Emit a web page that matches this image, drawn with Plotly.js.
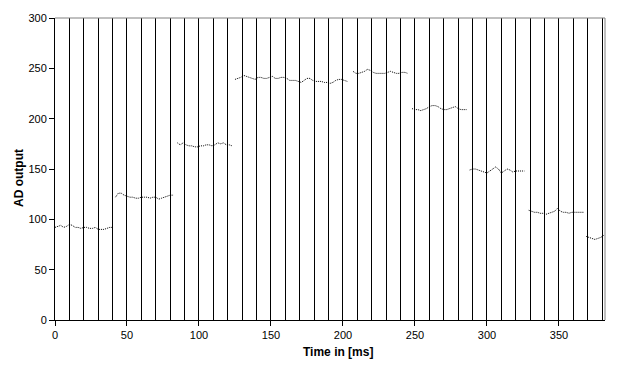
<!DOCTYPE html>
<html>
<head>
<meta charset="utf-8">
<script src="https://cdn.plot.ly/plotly-3.0.1.min.js"></script>
<style>html,body{margin:0;padding:0;background:#fff;}#chart{width:627px;height:368px;}</style>
</head>
<body>
<div id="chart"></div>
<script>
// Sample period of the recording (ms)
const samplePeriod = 2;
// Start time (ms) of each recorded segment
const segmentStart = [0, 42, 85, 125, 207, 248, 288, 329, 369];
// AD output values per segment
const seg1 = [92, 93, 94, 92, 93, 95, 94, 92, 92, 91, 92, 92, 91, 91, 92, 90, 90, 90, 91, 92, 92];
const seg2 = [122, 126, 126, 124, 123, 122, 122, 121, 121, 122, 122, 122, 121, 122, 122, 120, 121, 122, 123, 124, 124];
const seg3 = [176, 174, 176, 174, 173, 173, 172, 172, 173, 173, 174, 174, 173, 174, 176, 175, 176, 174, 174, 173];
const seg4 = [239, 240, 241, 243, 242, 241, 240, 239, 241, 241, 240, 240, 241, 242, 240, 240, 241, 241, 240, 238, 238,
              238, 237, 236, 238, 240, 240, 238, 237, 237, 237, 236, 236, 235, 236, 238, 239, 239, 238, 237];
const seg5 = [247, 245, 245, 246, 247, 249, 248, 246, 245, 245, 245, 245, 246, 247, 246, 245, 245, 246, 246, 245];
const seg6 = [210, 209, 209, 208, 209, 210, 212, 213, 213, 212, 210, 209, 209, 210, 211, 212, 210, 209, 209, 209];
const seg7 = [149, 150, 150, 149, 148, 147, 146, 148, 150, 152, 150, 146, 148, 150, 149, 147, 148, 148, 148, 148];
const seg8 = [109, 108, 107, 107, 106, 106, 105, 106, 107, 108, 111, 108, 107, 107, 106, 107, 107, 107, 107, 107];
const seg9 = [83, 82, 81, 80, 81, 82, 84];
const segments = [seg1, seg2, seg3, seg4, seg5, seg6, seg7, seg8, seg9];

const xTickVals = [0, 50, 100, 150, 200, 250, 300, 350];
const yTickVals = [0, 50, 100, 150, 200, 250, 300];
const xTitle = 'Time in [ms]';
const yTitle = 'AD output';

// Build one trace with gaps between segments
const xs = [], ys = [];
segments.forEach((vals, s) => {
  vals.forEach((v, i) => { xs.push(segmentStart[s] + i * samplePeriod); ys.push(v); });
  xs.push(null); ys.push(null);
});

const font = {family: 'Liberation Sans, Arial, sans-serif', size: 11, color: '#000'};

const data = [{
  x: xs, y: ys, type: 'scatter', mode: 'lines', connectgaps: false,
  line: {color: '#000', width: 1, dash: '1px,1px'},
  hoverinfo: 'x+y'
}];

const layout = {
  width: 627, height: 368,
  margin: {l: 55, r: 22, t: 18, b: 48, pad: 0},
  paper_bgcolor: '#fff', plot_bgcolor: '#fff',
  showlegend: false,
  font: font,
  xaxis: {
    range: [0, 382], tickvals: xTickVals, ticktext: xTickVals.map(String),
    ticks: 'outside', ticklen: 5, tickcolor: '#000', tickwidth: 1,
    showline: true, linecolor: '#000', linewidth: 1,
    showgrid: true, gridcolor: '#000', gridwidth: 1,
    minor: {dtick: 10, tick0: 0, showgrid: true, gridcolor: '#000', gridwidth: 1, ticks: ''},
    zeroline: false, tickfont: font, fixedrange: true
  },
  yaxis: {
    range: [0, 300], tickvals: yTickVals, ticktext: yTickVals.map(String),
    ticks: 'outside', ticklen: 5, tickcolor: '#000', tickwidth: 1,
    showline: true, linecolor: '#000', linewidth: 1,
    showgrid: false, zeroline: false, tickfont: font, fixedrange: true
  },
  shapes: [
    {type: 'line', xref: 'paper', yref: 'paper', x0: 0, x1: 1, y0: 1, y1: 1, line: {color: '#808080', width: 1}},
    {type: 'line', xref: 'paper', yref: 'paper', x0: 1, x1: 1, y0: 0, y1: 1, line: {color: '#808080', width: 1}}
  ],
  annotations: [
    {text: '<b>' + xTitle + '</b>', xref: 'paper', yref: 'paper', x: (338 - 55) / 550, y: -(352 - 320) / 302,
     xanchor: 'center', yanchor: 'middle', showarrow: false, font: {family: font.family, size: 12, color: '#000'}},
    {text: '<b>' + yTitle + '</b>', xref: 'paper', yref: 'paper', x: -(55 - 19) / 550, y: (320 - 178) / 302,
     xanchor: 'center', yanchor: 'middle', textangle: -90, showarrow: false, font: {family: font.family, size: 12, color: '#000'}}
  ]
};

Plotly.newPlot('chart', data, layout, {displayModeBar: false, staticPlot: true});
</script>
</body>
</html>
